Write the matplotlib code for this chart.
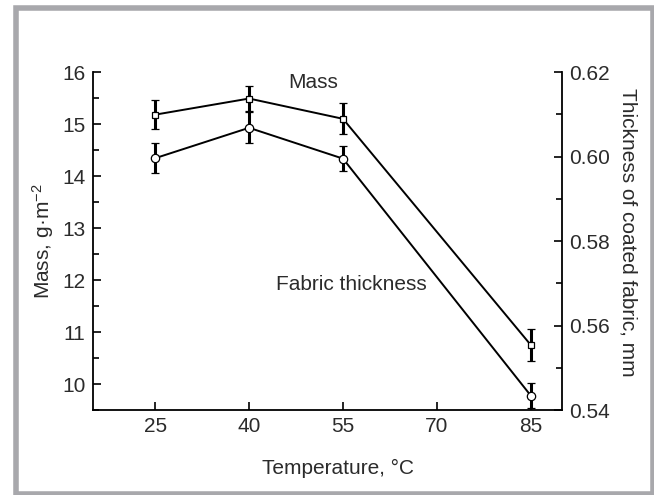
import matplotlib
matplotlib.use("Agg")
import matplotlib.pyplot as plt
from matplotlib.patches import Rectangle
from matplotlib.ticker import MultipleLocator, FormatStrFormatter

plt.rcParams["font.family"] = ["Liberation Sans", "DejaVu Sans"]
plt.rcParams["mathtext.fontset"] = "custom"
plt.rcParams["mathtext.rm"] = "Liberation Sans"
plt.rcParams["mathtext.default"] = "regular"

# temperature steps and measured values
temperature = [25, 40, 55, 85]
mass = [15.18, 15.49, 15.10, 10.75]          # g/m2
mass_err = [0.28, 0.24, 0.30, 0.30]
thickness = [0.5996, 0.6068, 0.5995, 0.5434]  # mm
thickness_err = [0.0035, 0.0037, 0.0030, 0.0030]

x_ticks = [25, 40, 55, 70, 85]
mass_ticks = [10, 11, 12, 13, 14, 15, 16]
thick_ticks = [0.54, 0.56, 0.58, 0.60, 0.62]

text_col = "#2b2b2b"
fs = 15

fig = plt.figure(figsize=(6.54, 4.95), dpi=100)
ax = fig.add_axes([0.1415, 0.1717, 0.7180, 0.6828])
ax2 = ax.twinx()

ebar = dict(color="black", lw=1.4, elinewidth=2.2, capsize=3.2, capthick=2.2,
            mfc="white", mec="black", mew=0.9, clip_on=False)
ax.errorbar(temperature, mass, yerr=mass_err, marker="s", ms=5, zorder=3, **ebar)
ax2.errorbar(temperature, thickness, yerr=thickness_err, marker="o", ms=6, zorder=3, **ebar)

ax.set_xlim(15, 90)
ax.set_ylim(9.5, 16)
ax2.set_ylim(0.54, 0.62)

ax.set_xticks(x_ticks)
ax.set_yticks(mass_ticks)
ax.yaxis.set_minor_locator(MultipleLocator(0.5))
ax2.set_yticks(thick_ticks)
ax2.yaxis.set_minor_locator(MultipleLocator(0.01))
ax2.yaxis.set_major_formatter(FormatStrFormatter("%.2f"))

for a in (ax, ax2):
    a.set_facecolor("none")
    a.spines["top"].set_visible(False)
    for s in a.spines.values():
        s.set_linewidth(1.3)
    a.tick_params(which="major", direction="in", length=6, width=1.2,
                  labelsize=fs, labelcolor=text_col, pad=5)
    a.tick_params(which="minor", direction="in", length=4.5, width=1.2)
ax.spines["right"].set_visible(False)
ax2.spines["left"].set_visible(False)
ax2.spines["bottom"].set_visible(False)

ax.set_xlabel("Temperature, °C", fontsize=fs, color=text_col, va="center")
ax.xaxis.set_label_coords(0.522, -0.172)
ax.set_ylabel("Mass, g·m$^{-2}$", fontsize=fs, color=text_col, va="center")
ax.yaxis.set_label_coords(-0.106, 0.5)
ax2.set_ylabel("Thickness of coated fabric, mm", fontsize=fs, color=text_col,
               rotation=270, va="center")
ax2.yaxis.set_label_coords(1.140, 0.527)

ax.text(50.2, 15.8, "Mass", fontsize=fs, color=text_col, ha="center", va="center")
ax.text(56.3, 11.92, "Fabric thickness", fontsize=fs, color=text_col,
        ha="center", va="center")

# grey frame round the figure
fig.add_artist(Rectangle((15.5 / 654, 1 - 493.5 / 495), 637 / 654, 485.5 / 495,
                         transform=fig.transFigure, fill=False,
                         edgecolor="#a8a8ac", linewidth=4.0))

fig.savefig("out.png", dpi=100)
